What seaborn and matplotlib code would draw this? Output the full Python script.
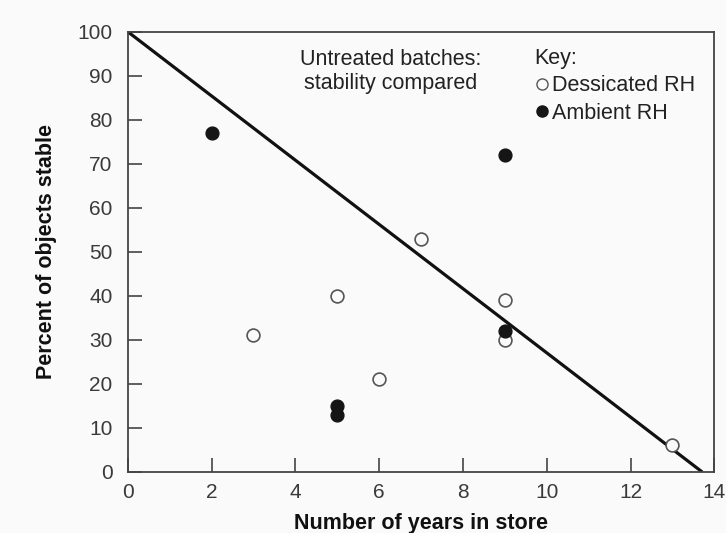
import matplotlib
matplotlib.use("Agg")
import matplotlib.pyplot as plt
import seaborn as sns
import pandas as pd
from matplotlib.lines import Line2D

sns.set_style("ticks")
plt.rcParams['font.family'] = ['Liberation Sans', 'DejaVu Sans']

# Data
dess_years = [3, 5, 6, 7, 9, 9, 13]
dess_pct = [31, 40, 21, 53, 39, 30, 6]
amb_years = [2, 5, 5, 9, 9]
amb_pct = [77, 15, 13, 72, 32]
line_x = [0, 13.7]
line_y = [100, 0]
xticks = [0, 2, 4, 6, 8, 10, 12, 14]
yticks = [0, 10, 20, 30, 40, 50, 60, 70, 80, 90, 100]

df = pd.DataFrame({
    "years": dess_years + amb_years,
    "pct": dess_pct + amb_pct,
    "group": ["Dessicated RH"] * len(dess_years) + ["Ambient RH"] * len(amb_years),
})

bg = "#fafafa"
fig = plt.figure(figsize=(7.26, 5.33), dpi=100, facecolor=bg)
ax = fig.add_axes([0.176, 0.115, 0.808, 0.8255])
ax.set_facecolor(bg)

sns.lineplot(x=line_x, y=line_y, ax=ax, color="#111111", linewidth=2.3, zorder=2)

d = df[df.group == "Dessicated RH"]
sns.scatterplot(data=d, x="years", y="pct", ax=ax, marker="o", s=85,
                facecolor=bg, edgecolor="#555555", linewidth=1.2, zorder=3)
a = df[df.group == "Ambient RH"]
sns.scatterplot(data=a, x="years", y="pct", ax=ax, marker="o", s=85,
                color="#151515", edgecolor="#151515", linewidth=1, zorder=4)

ax.set_xlim(0, 14)
ax.set_ylim(0, 100)
ax.set_xticks(xticks)
ax.set_yticks(yticks)
ax.tick_params(direction="in", length=10, width=1.2, color="#444444",
               labelsize=15, labelcolor="#3a3a3a")
ax.tick_params(axis="y", pad=11)
ax.tick_params(axis="x", pad=8)
for sp in ax.spines.values():
    sp.set_color("#444444")
    sp.set_linewidth(1.3)

ax.set_xlabel("Number of years in store", fontsize=15.5, fontweight="bold", color="#111111", labelpad=8)
ax.set_ylabel("Percent of objects stable", fontsize=15.5, fontweight="bold", color="#111111", labelpad=15)

ax.text(0.448, 0.96, "Untreated batches:\nstability compared", transform=ax.transAxes,
        ha="center", va="top", fontsize=15.5, color="#222222", linespacing=1.15)

handles = [
    Line2D([], [], marker="o", linestyle="none", markersize=8, markerfacecolor=bg,
           markeredgecolor="#555555", markeredgewidth=1.0),
    Line2D([], [], marker="o", linestyle="none", markersize=8, markerfacecolor="#151515",
           markeredgecolor="#151515"),
]
leg = ax.legend(handles, ["Dessicated RH", "Ambient RH"], title="Key:", loc="upper left",
                bbox_to_anchor=(0.693, 0.963), frameon=False, fontsize=15.5, title_fontsize=15.5,
                handletextpad=0.1, handlelength=0.7, borderaxespad=0, borderpad=0,
                labelspacing=0.3, alignment="left")
for t in leg.get_texts():
    t.set_color("#222222")
leg.get_title().set_color("#222222")

fig.savefig("out.png", dpi=100, facecolor=bg)
